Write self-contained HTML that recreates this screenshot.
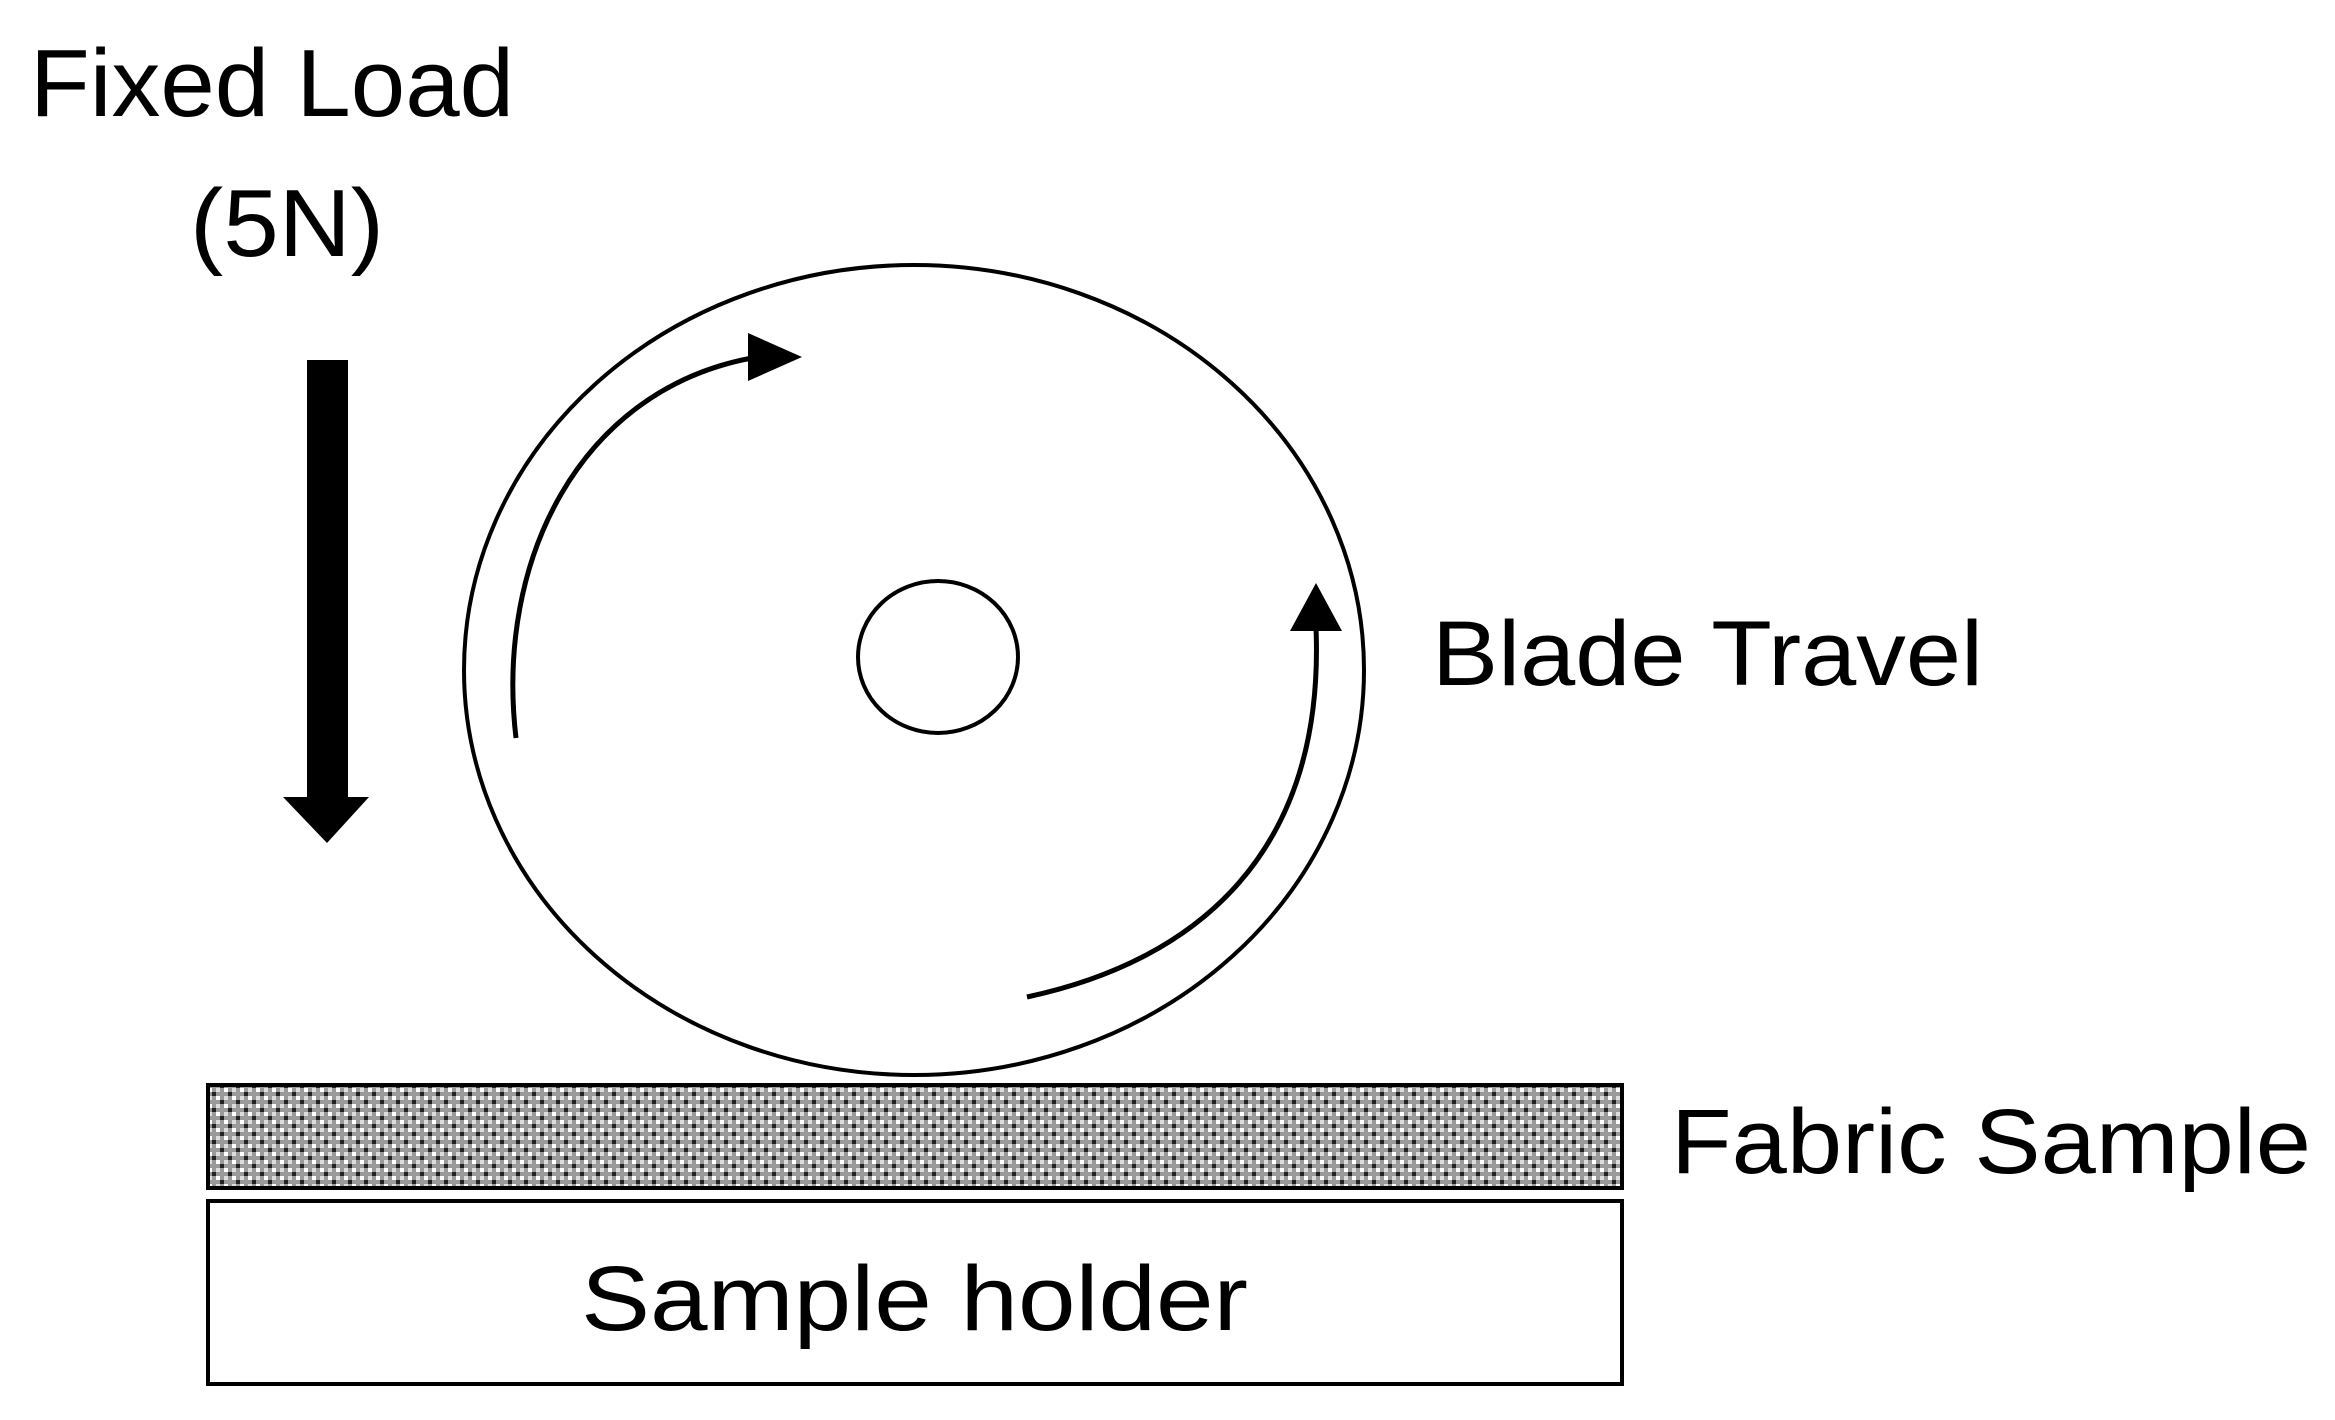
<!DOCTYPE html>
<html><head><meta charset="utf-8"><style>
html,body{margin:0;padding:0;background:#fff;}
svg{display:block;}
text{font-family:"Liberation Sans",sans-serif;fill:#000;}
</style></head><body>
<svg width="2335" height="1420" viewBox="0 0 2335 1420" xmlns="http://www.w3.org/2000/svg">
<defs>
<pattern id="fab" width="16" height="16" patternUnits="userSpaceOnUse">
<rect width="16" height="16" fill="#9a9a9a"/>
<rect x="0" y="0" width="4" height="4" fill="#fff"/>
<rect x="8" y="8" width="4" height="4" fill="#fff"/>
<rect x="4" y="4" width="4" height="4" fill="#222"/>
<rect x="12" y="12" width="4" height="4" fill="#222"/>
<rect x="8" y="0" width="4" height="4" fill="#ddd"/>
<rect x="0" y="8" width="4" height="4" fill="#ddd"/>
</pattern>
</defs>
<text x="30" y="116" font-size="96" textLength="484" lengthAdjust="spacingAndGlyphs">Fixed Load</text>
<text x="190" y="256" font-size="96" textLength="194" lengthAdjust="spacingAndGlyphs">(5N)</text>
<rect x="307" y="360" width="41" height="440" fill="#000"/>
<polygon points="283,797 369,797 327,843" fill="#000"/>
<ellipse cx="914" cy="670" rx="450" ry="405" fill="none" stroke="#000" stroke-width="4"/>
<ellipse cx="938" cy="657" rx="80" ry="76" fill="none" stroke="#000" stroke-width="4"/>
<path d="M516 738 C 495 560, 580 390, 752 358" fill="none" stroke="#000" stroke-width="5"/>
<polygon points="748,333 748,381 802,357" fill="#000"/>
<path d="M1027 997 C 1200 960, 1325 850, 1316 628" fill="none" stroke="#000" stroke-width="5"/>
<polygon points="1290,631 1342,631 1316,583" fill="#000"/>
<text x="1432" y="685" font-size="92" textLength="551" lengthAdjust="spacingAndGlyphs">Blade Travel</text>
<rect x="208" y="1085" width="1414" height="103" fill="url(#fab)" stroke="#000" stroke-width="4"/>
<text x="1671" y="1173" font-size="92" textLength="640" lengthAdjust="spacingAndGlyphs">Fabric Sample</text>
<rect x="208" y="1201" width="1414" height="183" fill="#fff" stroke="#000" stroke-width="4"/>
<text x="581" y="1330" font-size="92" textLength="667" lengthAdjust="spacingAndGlyphs">Sample holder</text>
</svg>
</body></html>
